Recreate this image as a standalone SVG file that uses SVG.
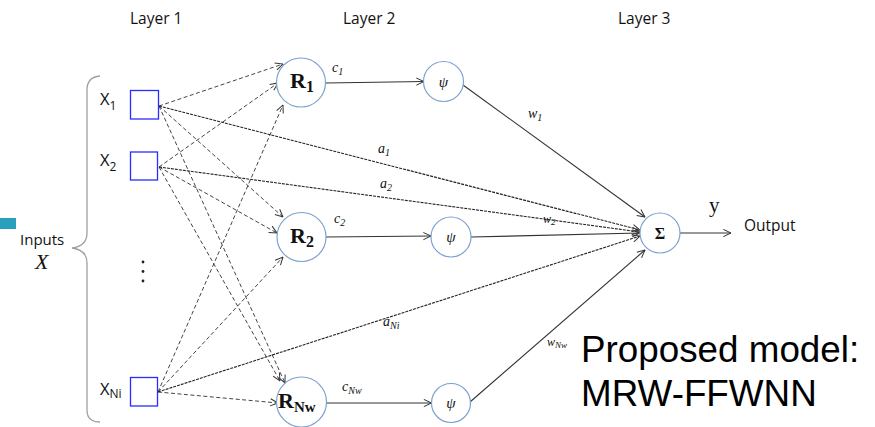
<svg xmlns="http://www.w3.org/2000/svg" width="875" height="427" viewBox="0 0 875 427">
<defs>
<marker id="arr" viewBox="0 0 10 10" refX="9.5" refY="5" markerWidth="9" markerHeight="9" markerUnits="userSpaceOnUse" orient="auto">
<path d="M1,1 L9.5,5 L1,9" fill="none" stroke="#333" stroke-width="1.1"/>
</marker>
<style>
.sans{font-family:"Open Sans","Liberation Sans",sans-serif;fill:#111}
.math{font-family:"Liberation Serif","DejaVu Serif",serif;font-style:italic;fill:#111}
.bold{font-family:"Liberation Serif","DejaVu Serif",serif;font-weight:bold;fill:#111}
.box{fill:#fff;stroke:#2b2bff;stroke-width:1.3}
.node{fill:#fff;stroke:#7ea1cf;stroke-width:1.2}
.dash{fill:none;stroke:#444;stroke-width:1;stroke-dasharray:4 2.5}
.fine{fill:none;stroke:#222;stroke-width:1.1;stroke-dasharray:3 1}
.solid{fill:none;stroke:#333;stroke-width:1.1}
</style>
</defs>
<rect width="875" height="427" fill="#fff"/>
<rect x="0" y="218" width="16" height="11" fill="#2aa0bd"/>

<g id="layer-labels" class="sans" font-size="15.5">
<text x="130" y="24">Layer 1</text>
<text x="343" y="24">Layer 2</text>
<text x="618" y="24">Layer 3</text>
</g>

<g id="inputs">
<path d="M100,76 Q87,77 87,90 L87,233 Q87,246 72,248 Q87,250 87,263 L87,410 Q87,422 100,422" fill="none" stroke="#a0a0a0" stroke-width="1.3"/>
<text class="sans" x="20" y="245" font-size="15">Inputs</text>
<text class="math" x="35" y="269" font-size="22">X</text>
<circle cx="143" cy="262" r="1.4" fill="#222"/>
<circle cx="143" cy="271.5" r="1.4" fill="#222"/>
<circle cx="143" cy="281" r="1.4" fill="#222"/>
</g>

<g id="connectors">
<line class="dash" x1="159" y1="106" x2="283" y2="64" marker-end="url(#arr)"/>
<line class="dash" x1="159" y1="106" x2="283" y2="217" marker-end="url(#arr)"/>
<line class="dash" x1="159" y1="106" x2="285" y2="383" marker-end="url(#arr)"/>
<line class="dash" x1="159" y1="167" x2="278" y2="83" marker-end="url(#arr)"/>
<line class="dash" x1="159" y1="167" x2="277" y2="233" marker-end="url(#arr)"/>
<line class="dash" x1="159" y1="167" x2="280" y2="381" marker-end="url(#arr)"/>
<line class="dash" x1="158" y1="392" x2="283" y2="105" marker-end="url(#arr)"/>
<line class="dash" x1="158" y1="392" x2="283" y2="257" marker-end="url(#arr)"/>
<line class="dash" x1="158" y1="392" x2="278" y2="403" marker-end="url(#arr)"/>
<line class="fine" x1="159" y1="106" x2="640" y2="230" marker-end="url(#arr)"/>
<line class="fine" x1="159" y1="167" x2="640" y2="232" marker-end="url(#arr)"/>
<line class="fine" x1="158" y1="392" x2="640" y2="236" marker-end="url(#arr)"/>
<line class="solid" x1="326" y1="83" x2="424" y2="81.5" marker-end="url(#arr)"/>
<line class="solid" x1="326" y1="237" x2="431" y2="236" marker-end="url(#arr)"/>
<line class="solid" x1="327" y1="403" x2="431.5" y2="403" marker-end="url(#arr)"/>
<line class="solid" x1="463" y1="85" x2="645" y2="217" marker-end="url(#arr)"/>
<line class="solid" x1="471" y1="237" x2="640" y2="233" marker-end="url(#arr)"/>
<line class="solid" x1="470" y1="402" x2="645" y2="250" marker-end="url(#arr)"/>
<line class="solid" x1="680" y1="233" x2="731" y2="233" marker-end="url(#arr)"/>
<g class="math" font-size="14">
<text x="332" y="72">c<tspan font-size="10" dy="3">1</tspan></text>
<text x="334" y="223">c<tspan font-size="10" dy="3">2</tspan></text>
<text x="342" y="391">c<tspan font-size="10" dy="3">Nw</tspan></text>
<text x="528" y="118">w<tspan font-size="10" dy="3">1</tspan></text>
<text x="378" y="153">a<tspan font-size="10" dy="3">1</tspan></text>
<text x="380" y="188">a<tspan font-size="10" dy="3">2</tspan></text>
<text x="543" y="223" font-size="12">w<tspan font-size="9" dy="2">2</tspan></text>
<text x="383" y="326">a<tspan font-size="10" dy="3">Ni</tspan></text>
<text x="547" y="346" font-size="12">w<tspan font-size="9" dy="2">Nw</tspan></text>
</g>
</g>

<g id="x1">
<rect class="box" x="130.5" y="90.5" width="28" height="28.5"/>
<text class="sans" x="100" y="105" font-size="16.5">X<tspan font-size="12" dy="4.5">1</tspan></text>
</g>
<g id="x2">
<rect class="box" x="130.5" y="152" width="27" height="28"/>
<text class="sans" x="100" y="166" font-size="16.5">X<tspan font-size="12" dy="4.5">2</tspan></text>
</g>
<g id="xNi">
<rect class="box" x="130.5" y="377.5" width="27" height="28.5"/>
<text class="sans" x="100" y="395" font-size="16.5">X<tspan font-size="12" dy="3">Ni</tspan></text>
</g>

<g id="R1">
<circle class="node" cx="301" cy="82.5" r="24.5"/>
<text class="bold" x="290" y="88" font-size="22">R<tspan font-size="16" dy="4">1</tspan></text>
</g>
<g id="R2">
<circle class="node" cx="301.5" cy="237" r="24.5"/>
<text class="bold" x="290" y="243" font-size="22">R<tspan font-size="16" dy="4">2</tspan></text>
</g>
<g id="RNw">
<circle class="node" cx="301.5" cy="402" r="25"/>
<text class="bold" x="278" y="408" font-size="22">R<tspan font-size="15" dy="4">Nw</tspan></text>
</g>

<g id="psi1">
<circle class="node" cx="443.5" cy="81.5" r="20"/>
<text class="math" x="443.5" y="86.5" font-size="15" text-anchor="middle">ψ</text>
</g>
<g id="psi2">
<circle class="node" cx="451" cy="237" r="20"/>
<text class="math" x="451" y="242" font-size="15" text-anchor="middle">ψ</text>
</g>
<g id="psi3">
<circle class="node" cx="451" cy="403" r="19.5"/>
<text class="math" x="451" y="408" font-size="15" text-anchor="middle">ψ</text>
</g>

<g id="sigma">
<circle class="node" cx="660" cy="233" r="20"/>
<text class="bold" x="660" y="238.5" font-size="16" text-anchor="middle">Σ</text>
</g>

<g id="output">
<text x="709" y="212" font-family="Liberation Serif,serif" font-size="21" fill="#111">y</text>
<text class="sans" x="744" y="231" font-size="15.5">Output</text>
</g>

<g id="caption" font-size="36.8" fill="#000" font-family="'Liberation Sans',Arial,sans-serif">
<text x="581" y="362">Proposed model:</text>
<text x="581" y="406">MRW-FFWNN</text>
</g>
</svg>
